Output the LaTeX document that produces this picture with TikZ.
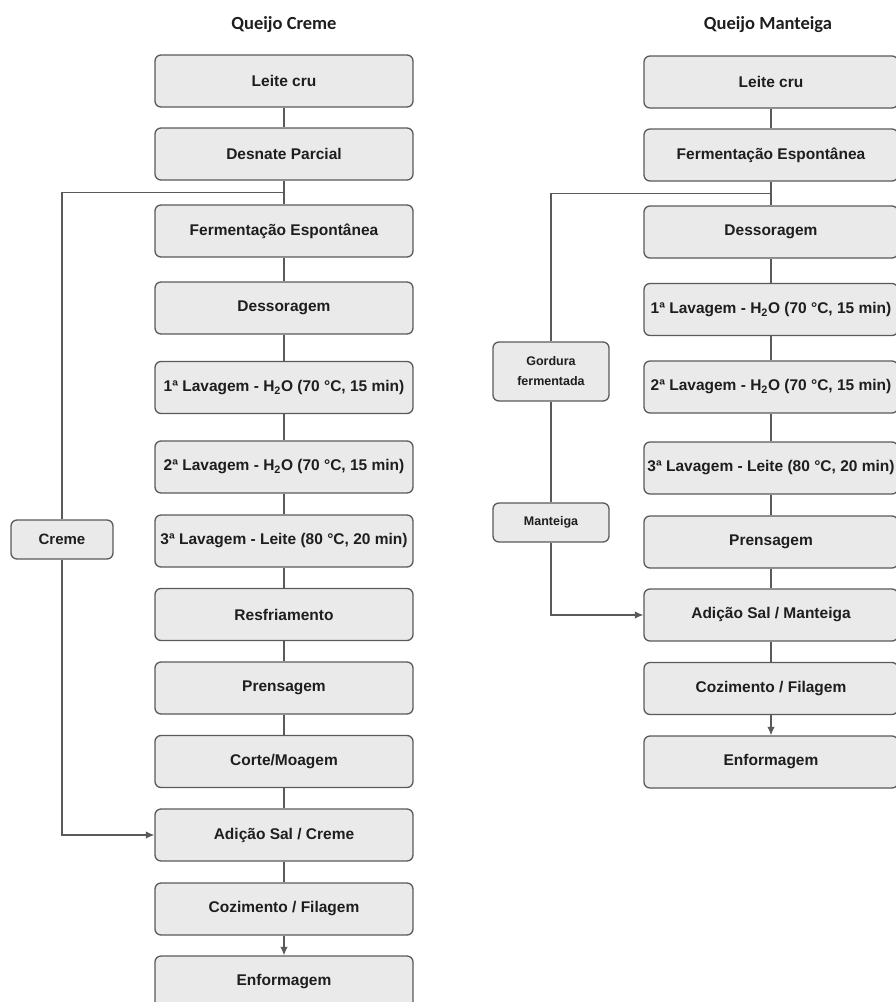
\documentclass[tikz,border=0pt]{standalone}
\usepackage{fontspec}
\setmainfont{Liberation Sans}
\newfontfamily\titlefont{Carlito}
\usetikzlibrary{arrows.meta}
\definecolor{boxfill}{HTML}{EAEAEA}
\definecolor{boxline}{HTML}{5A5A5A}
\definecolor{txt}{HTML}{1E1E1E}
\tikzset{
  stepbox/.style={draw=boxline, fill=boxfill, line width=1.3pt, rounded corners=6pt,
    minimum height=52pt, text=txt, inner sep=0pt,
    font=\fontsize{15.5}{18}\selectfont\bfseries},
  lbox/.style={stepbox, minimum width=258pt},
  rbox/.style={stepbox, minimum width=254pt},
  sidebox/.style={draw=boxline, fill=boxfill, line width=1.3pt, rounded corners=6pt,
    text=txt, inner sep=0pt, align=center},
  link/.style={draw=boxline, line width=1.3pt},
  arr/.style={link, -{Latex[length=8.5pt,width=7.5pt]}},
  ttl/.style={text=txt, font=\titlefont\fontsize{18.5}{20}\selectfont\bfseries}
}
\begin{document}
\begin{tikzpicture}[x=1pt, y=-1pt]
\useasboundingbox (0,0) rectangle (896,1002);
% titles
\node[ttl] (T1) at (284,25) {Queijo Creme};
\node[ttl] (T2) at (768,25) {Queijo Manteiga};
% left column
\node[lbox] (L1)  at (284,81)    {Leite cru};
\node[lbox] (L2)  at (284,154)   {Desnate Parcial};
\node[lbox] (L3)  at (284,231)   {Fermentação Espontânea};
\node[lbox] (L4)  at (284,308)   {Dessoragem};
\node[lbox] (L5)  at (284,387.5) {1ª Lavagem - H\textsubscript{2}O (70 °C, 15 min)};
\node[lbox] (L6)  at (284,467)   {2ª Lavagem - H\textsubscript{2}O (70 °C, 15 min)};
\node[lbox] (L7)  at (284,541)   {3ª Lavagem - Leite (80 °C, 20 min)};
\node[lbox] (L8)  at (284,614.5) {Resfriamento};
\node[lbox] (L9)  at (284,688)   {Prensagem};
\node[lbox] (L10) at (284,761.5) {Corte/Moagem};
\node[lbox] (L11) at (284,835)   {Adição Sal / Creme};
\node[lbox] (L12) at (284,909)   {Cozimento / Filagem};
\node[lbox] (L13) at (284,982)   {Enformagem};
\node[sidebox, minimum width=102pt, minimum height=39pt,
      font=\fontsize{15}{18}\selectfont\bfseries] (C) at (62,539.5) {Creme};
% right column
\node[rbox] (R1)  at (771,82)    {Leite cru};
\node[rbox] (R2)  at (771,155)   {Fermentação Espontânea};
\node[rbox] (R3)  at (771,232)   {Dessoragem};
\node[rbox] (R4)  at (771,309.5) {1ª Lavagem - H\textsubscript{2}O (70 °C, 15 min)};
\node[rbox] (R5)  at (771,387)   {2ª Lavagem - H\textsubscript{2}O (70 °C, 15 min)};
\node[rbox] (R6)  at (771,468)   {3ª Lavagem - Leite (80 °C, 20 min)};
\node[rbox] (R7)  at (771,542)   {Prensagem};
\node[rbox] (R8)  at (771,615)   {Adição Sal / Manteiga};
\node[rbox] (R9)  at (771,688.5) {Cozimento / Filagem};
\node[rbox] (R10) at (771,762)   {Enformagem};
\node[sidebox, minimum width=116pt, minimum height=59pt,
      font=\fontsize{12.5}{20}\selectfont\bfseries] (G) at (551,371.5) {Gordura\\fermentada};
\node[sidebox, minimum width=116pt, minimum height=39pt,
      font=\fontsize{12.5}{18}\selectfont\bfseries] (M) at (551,522.5) {Manteiga};
% left connectors
\draw[link] (L1) -- (L2);
\draw[link] (L2) -- (L3);
\draw[link] (L3) -- (L4);
\draw[link] (L4) -- (L5);
\draw[link] (L5) -- (L6);
\draw[link] (L6) -- (L7);
\draw[link] (L7) -- (L8);
\draw[link] (L8) -- (L9);
\draw[link] (L9) -- (L10);
\draw[link] (L10) -- (L11);
\draw[link] (L11) -- (L12);
\draw[arr] (L12) -- (L13);
\path (L2.south) ++(0,12) coordinate (Ls);
\draw[link] (Ls) -| (C.north);
\draw[arr] (C.south) |- (L11.west);
% right connectors
\draw[link] (R1) -- (R2);
\draw[link] (R2) -- (R3);
\draw[link] (R3) -- (R4);
\draw[link] (R4) -- (R5);
\draw[link] (R5) -- (R6);
\draw[link] (R6) -- (R7);
\draw[link] (R7) -- (R8);
\draw[link] (R8) -- (R9);
\draw[arr] (R9) -- (R10);
\path (R2.south) ++(0,12) coordinate (Rs);
\draw[link] (Rs) -| (G.north);
\draw[link] (G) -- (M);
\draw[arr] (M.south) |- (R8.west);
\end{tikzpicture}
\end{document}
